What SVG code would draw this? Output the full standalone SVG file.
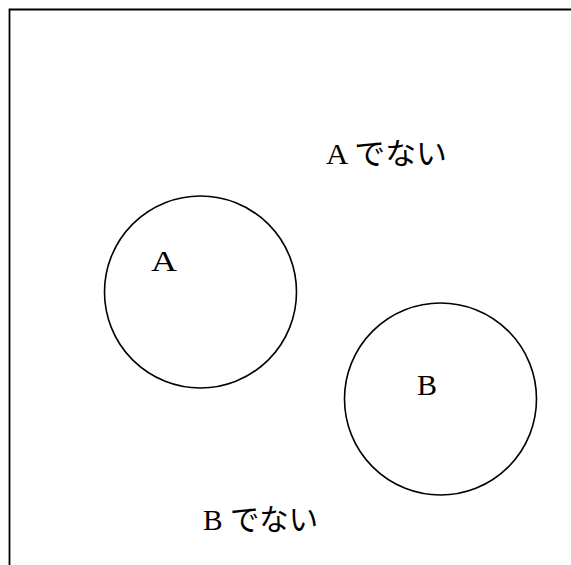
<svg xmlns="http://www.w3.org/2000/svg" width="571" height="565" viewBox="0 0 571 565">
<style>
.frame{fill:none;stroke:#000;stroke-width:1.8}
.c{fill:none;stroke:#000;stroke-width:1.6}
.t{font-family:"Liberation Serif","Noto Sans CJK JP",serif;font-size:30px;fill:#000}
</style>
<rect width="571" height="565" fill="#fff"/>
<g id="frame">
<path class="frame" d="M9.5,565 V9.5 H571"/>
</g>
<g id="notA"><text class="t" x="326" y="164" textLength="121" lengthAdjust="spacingAndGlyphs">A でない</text></g>
<g id="notB"><text class="t" x="203" y="530" textLength="115" lengthAdjust="spacingAndGlyphs">B でない</text></g>
<g id="A">
<circle class="c" cx="200.5" cy="292" r="96"/>
<text class="t" x="151" y="271" textLength="26" lengthAdjust="spacingAndGlyphs">A</text>
</g>
<g id="B">
<circle class="c" cx="440.5" cy="399" r="96"/>
<text class="t" x="417" y="395" textLength="20" lengthAdjust="spacingAndGlyphs">B</text>
</g>
<g id="connectors"></g>
</svg>
